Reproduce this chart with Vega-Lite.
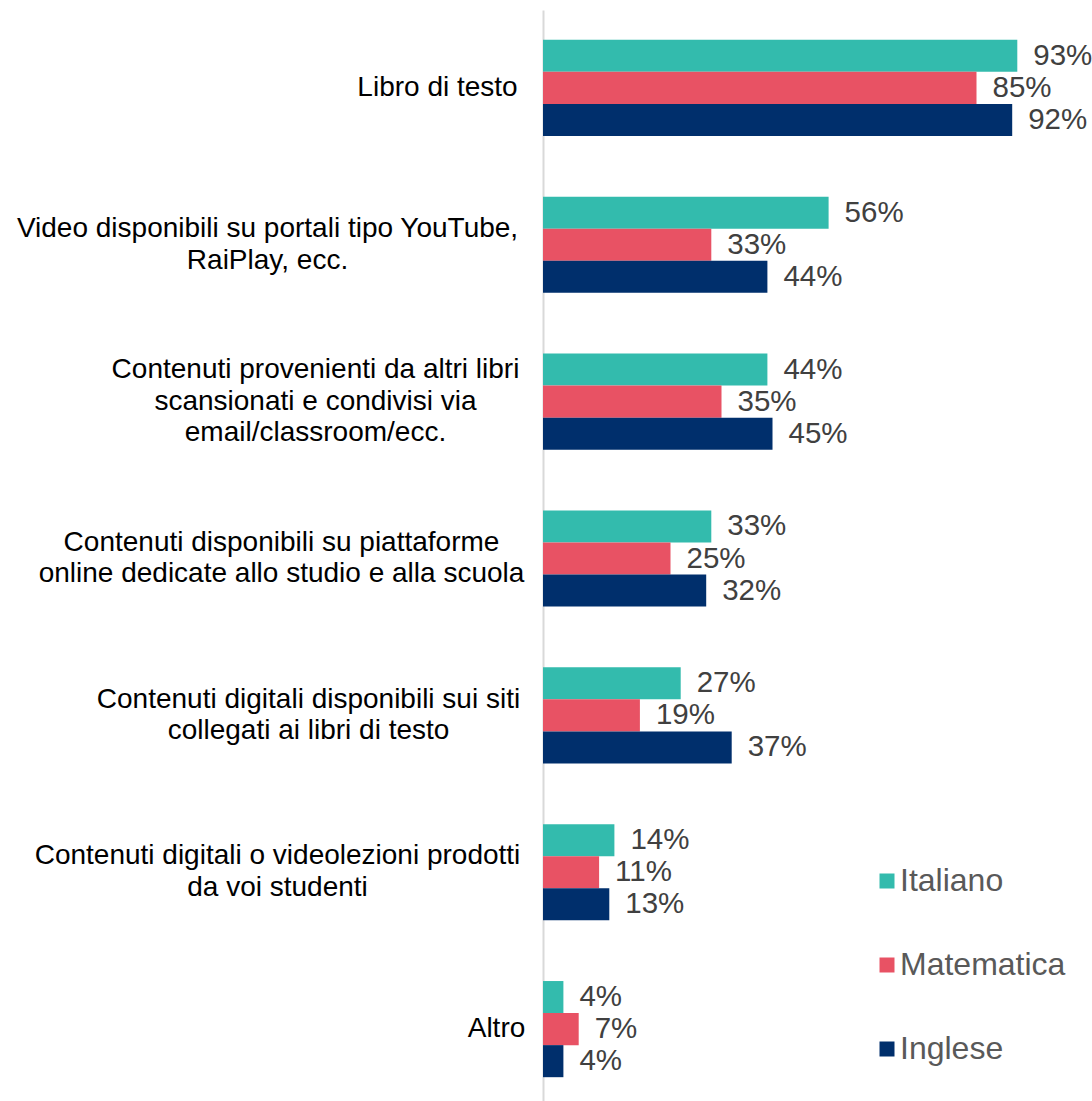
{
  "$schema": "https://vega.github.io/schema/vega-lite/v6.json",
  "autosize": {"type": "none"},
  "width": 510,
  "height": 1097,
  "padding": {"left": 543, "top": 10, "right": 39, "bottom": 0},
  "background": "white",
  "config": {"view": {"stroke": null}, "font": "Liberation Sans"},
  "data": {
    "values": [
      {"cat": "Libro di testo", "materia": "Italiano", "v": 0.93},
      {"cat": "Libro di testo", "materia": "Matematica", "v": 0.85},
      {"cat": "Libro di testo", "materia": "Inglese", "v": 0.92},
      {"cat": "Video disponibili su portali tipo YouTube,|RaiPlay, ecc.", "materia": "Italiano", "v": 0.56},
      {"cat": "Video disponibili su portali tipo YouTube,|RaiPlay, ecc.", "materia": "Matematica", "v": 0.33},
      {"cat": "Video disponibili su portali tipo YouTube,|RaiPlay, ecc.", "materia": "Inglese", "v": 0.44},
      {"cat": "Contenuti provenienti da altri libri|scansionati e condivisi via|email/classroom/ecc.", "materia": "Italiano", "v": 0.44},
      {"cat": "Contenuti provenienti da altri libri|scansionati e condivisi via|email/classroom/ecc.", "materia": "Matematica", "v": 0.35},
      {"cat": "Contenuti provenienti da altri libri|scansionati e condivisi via|email/classroom/ecc.", "materia": "Inglese", "v": 0.45},
      {"cat": "Contenuti disponibili su piattaforme|online dedicate allo studio e alla scuola", "materia": "Italiano", "v": 0.33},
      {"cat": "Contenuti disponibili su piattaforme|online dedicate allo studio e alla scuola", "materia": "Matematica", "v": 0.25},
      {"cat": "Contenuti disponibili su piattaforme|online dedicate allo studio e alla scuola", "materia": "Inglese", "v": 0.32},
      {"cat": "Contenuti digitali disponibili sui siti|collegati ai libri di testo", "materia": "Italiano", "v": 0.27},
      {"cat": "Contenuti digitali disponibili sui siti|collegati ai libri di testo", "materia": "Matematica", "v": 0.19},
      {"cat": "Contenuti digitali disponibili sui siti|collegati ai libri di testo", "materia": "Inglese", "v": 0.37},
      {"cat": "Contenuti digitali o videolezioni prodotti|da voi studenti", "materia": "Italiano", "v": 0.14},
      {"cat": "Contenuti digitali o videolezioni prodotti|da voi studenti", "materia": "Matematica", "v": 0.11},
      {"cat": "Contenuti digitali o videolezioni prodotti|da voi studenti", "materia": "Inglese", "v": 0.13},
      {"cat": "Altro", "materia": "Italiano", "v": 0.04},
      {"cat": "Altro", "materia": "Matematica", "v": 0.07},
      {"cat": "Altro", "materia": "Inglese", "v": 0.04}
    ]
  },
  "encoding": {
    "y": {
      "field": "cat",
      "type": "nominal",
      "sort": [
        "Libro di testo",
        "Video disponibili su portali tipo YouTube,|RaiPlay, ecc.",
        "Contenuti provenienti da altri libri|scansionati e condivisi via|email/classroom/ecc.",
        "Contenuti disponibili su piattaforme|online dedicate allo studio e alla scuola",
        "Contenuti digitali disponibili sui siti|collegati ai libri di testo",
        "Contenuti digitali o videolezioni prodotti|da voi studenti",
        "Altro"
      ],
      "scale": {"paddingInner": 0.387, "paddingOuter": 0.19},
      "axis": {
        "title": null,
        "ticks": false,
        "tickSize": 0,
        "domainColor": "#D9D9D9",
        "domainWidth": 2,
        "labelExpr": "split(datum.label, '|')",
        "labelFont": "Liberation Sans",
        "labelFontSize": 28,
        "labelColor": "#000000",
        "labelLineHeight": 31.5,
        "labelAlign": "center",
        "labelLimit": 600,
        "labelOffset": {
          "condition": [
            {"test": "indexof(datum.value, 'Contenuti provenienti') === 0", "value": -31.5},
            {"test": "indexof(datum.value, '|') >= 0", "value": -15.75}
          ],
          "value": 0
        },
        "labelPadding": {
          "condition": [
            {"test": "indexof(datum.value, 'Libro') === 0", "value": 106},
            {"test": "indexof(datum.value, 'Video') === 0", "value": 276},
            {"test": "indexof(datum.value, 'Contenuti provenienti') === 0", "value": 228},
            {"test": "indexof(datum.value, 'Contenuti disponibili') === 0", "value": 262},
            {"test": "indexof(datum.value, 'Contenuti digitali disponibili') === 0", "value": 235},
            {"test": "indexof(datum.value, 'Contenuti digitali o') === 0", "value": 266},
            {"test": "indexof(datum.value, 'Altro') === 0", "value": 47}
          ],
          "value": 24
        }
      }
    },
    "yOffset": {
      "field": "materia",
      "type": "nominal",
      "sort": ["Italiano", "Matematica", "Inglese"],
      "scale": {"paddingInner": 0, "paddingOuter": 0}
    },
    "x": {
      "field": "v",
      "type": "quantitative",
      "scale": {"domain": [0, 1]},
      "axis": null
    }
  },
  "layer": [
    {
      "mark": {"type": "bar"},
      "encoding": {
        "color": {
          "field": "materia",
          "type": "nominal",
          "sort": ["Italiano", "Matematica", "Inglese"],
          "scale": {"domain": ["Italiano", "Matematica", "Inglese"], "range": ["#33BBAD", "#E85264", "#002F6C"]},
          "legend": {
            "title": null,
            "orient": "none",
            "legendX": 328,
            "legendY": 855,
            "padding": 0,
            "symbolType": "square",
            "symbolSize": 225,
            "symbolStrokeWidth": 0,
            "symbolOpacity": 1,
            "labelFont": "Liberation Sans",
            "labelFontSize": 32,
            "labelColor": "#595959",
            "labelOffset": -3,
            "labelLimit": 400,
            "rowPadding": 52
          }
        }
      }
    },
    {
      "mark": {"type": "text", "align": "left", "baseline": "middle", "dx": 16, "font": "Liberation Sans", "fontSize": 29.5, "color": "#404040"},
      "encoding": {
        "text": {"field": "v", "type": "quantitative", "format": ".0%"}
      }
    }
  ]
}
